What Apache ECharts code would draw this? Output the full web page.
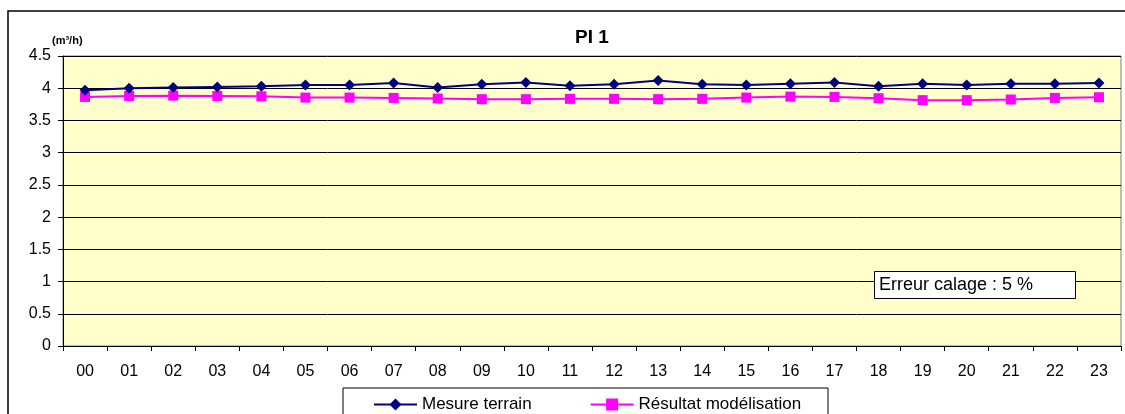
<!DOCTYPE html>
<html>
<head>
<meta charset="utf-8">
<script src="https://cdn.jsdelivr.net/npm/echarts@6/dist/echarts.min.js"></script>
<style>
  html, body { margin: 0; padding: 0; background: #fff; }
  #chart { width: 1125px; height: 414px; }
</style>
</head>
<body>
<div id="chart"></div>
<script>
const hours = ["00", "01", "02", "03", "04", "05", "06", "07", "08", "09", "10", "11",
  "12", "13", "14", "15", "16", "17", "18", "19", "20", "21", "22", "23"];
const mesureTerrain = [3.97, 4.00, 4.01, 4.02, 4.03, 4.05, 4.05, 4.08, 4.01, 4.06, 4.09, 4.04,
  4.06, 4.12, 4.06, 4.05, 4.07, 4.09, 4.03, 4.07, 4.05, 4.07, 4.07, 4.08];
const resultatModel = [3.865, 3.88, 3.885, 3.88, 3.875, 3.855, 3.855, 3.85, 3.84, 3.83, 3.83, 3.835,
  3.835, 3.83, 3.835, 3.855, 3.87, 3.865, 3.845, 3.815, 3.815, 3.825, 3.85, 3.86];
const seriesNames = ["Mesure terrain", "Résultat modélisation"];

const FONT = "'Liberation Sans', Arial, sans-serif";
const chart = echarts.init(document.getElementById("chart"));

chart.setOption({
  animation: false,
  textStyle: { fontFamily: FONT },
  grid: {
    left: 63, right: 4, top: 56, bottom: 68,
    show: true,
    backgroundColor: "#ffffcc",
    borderColor: "#808080",
    borderWidth: 1,
    outerBoundsMode: "none"
  },
  legend: {
    left: 373,
    top: 396,
    padding: 0,
    itemWidth: 43,
    itemHeight: 15,
    itemGap: 58,
    textStyle: { color: "#000", fontSize: 17, fontFamily: FONT },
    data: seriesNames
  },
  xAxis: {
    type: "category",
    data: hours,
    boundaryGap: true,
    axisLine: { lineStyle: { color: "#000", width: 1 } },
    axisTick: { show: true, length: 5, lineStyle: { color: "#000" } },
    axisLabel: { color: "#000", fontSize: 16, margin: 18, interval: 0 },
    splitLine: { show: false }
  },
  yAxis: {
    type: "value",
    min: 0,
    max: 4.5,
    interval: 0.5,
    axisLine: { show: true, lineStyle: { color: "#000", width: 1 } },
    axisTick: { show: true, length: 5, lineStyle: { color: "#000" } },
    axisLabel: { color: "#000", fontSize: 16, margin: 12 },
    splitLine: { lineStyle: { color: "#000", width: 1 } }
  },
  series: [
    {
      name: seriesNames[0],
      type: "line",
      data: mesureTerrain,
      symbol: "diamond",
      symbolSize: 11,
      lineStyle: { color: "#000080", width: 2 },
      itemStyle: { color: "#000080" },
      z: 3
    },
    {
      name: seriesNames[1],
      type: "line",
      data: resultatModel,
      symbol: "rect",
      symbolSize: 10,
      lineStyle: { color: "#ff00ff", width: 2 },
      itemStyle: { color: "#ff00ff" },
      z: 2
    }
  ],
  graphic: [
    {
      type: "rect",
      shape: { x: 8, y: 11, width: 1200, height: 500 },
      style: { fill: null, stroke: "#000", lineWidth: 1.5 },
      silent: true
    },
    {
      type: "text",
      x: 592, y: 38,
      style: { text: "PI 1", font: `bold 19px ${FONT}`, fill: "#000", textAlign: "center", textVerticalAlign: "middle" }
    },
    {
      type: "text",
      x: 52, y: 41,
      style: { text: "(m³/h)", font: `bold 11px ${FONT}`, fill: "#000", textAlign: "left", textVerticalAlign: "middle" }
    },
    {
      type: "rect",
      shape: { x: 343, y: 388, width: 485, height: 40 },
      style: { fill: "#fff", stroke: "#000", lineWidth: 1 },
      z: -1,
      silent: true
    },
    {
      type: "rect",
      zlevel: 1,
      z: 100,
      shape: { x: 874.5, y: 271.5, width: 201, height: 27 },
      style: { fill: "#fff", stroke: "#000", lineWidth: 1 },
      silent: true
    },
    {
      type: "text",
      zlevel: 1,
      z: 101,
      x: 879, y: 285,
      style: { text: "Erreur calage : 5 %", font: `18px ${FONT}`, fill: "#000", textVerticalAlign: "middle" }
    }
  ]
});
</script>
</body>
</html>
